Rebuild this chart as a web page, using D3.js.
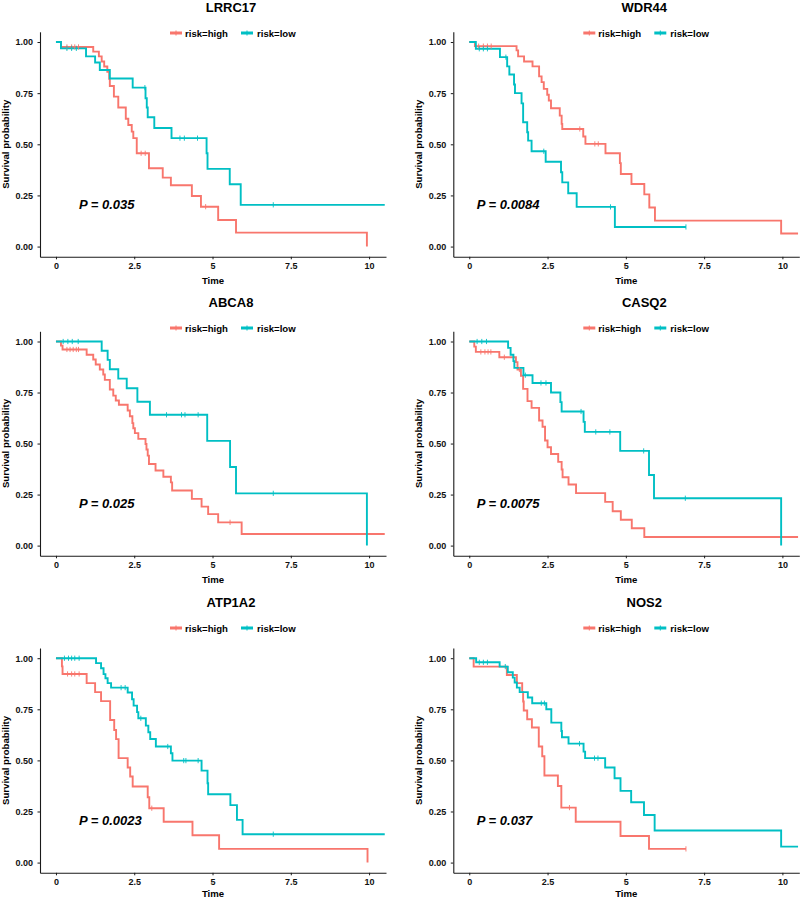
<!DOCTYPE html>
<html>
<head>
<meta charset="utf-8">
<script src="https://cdn.jsdelivr.net/npm/d3@7"></script>
<style>
  html, body { margin: 0; padding: 0; background: #ffffff; }
  svg { display: block; }
  text { font-family: "Liberation Sans", Arial, Helvetica, sans-serif; }
</style>
</head>
<body>
<svg id="chart" width="800" height="899"></svg>
<script>
// ---------------- DATA ----------------
const genes = ["LRRC17", "WDR44", "ABCA8", "CASQ2", "ATP1A2", "NOS2"];
const pValues = ["0.035", "0.0084", "0.025", "0.0075", "0.0023", "0.037"];
const groups = ["risk=high", "risk=low"];
const xTicks = [0, 2.5, 5, 7.5, 10];
const xTickLabels = ["0", "2.5", "5", "7.5", "10"];
const yTicks = [0, 0.25, 0.5, 0.75, 1];
const yTickLabels = ["0.00", "0.25", "0.50", "0.75", "1.00"];

// step points [time, survival after event]
const LRRC17_high = [[0,1],[0.16,0.976],[1.19,0.953],[1.37,0.93],[1.46,0.905],[1.54,0.88],[1.64,0.855],[1.70,0.82],[1.72,0.785],[1.85,0.733],[1.99,0.68],[2.23,0.625],[2.31,0.594],[2.42,0.562],[2.47,0.53],[2.58,0.456],[2.97,0.383],[3.41,0.337],[3.67,0.30],[4.34,0.247],[4.63,0.195],[5.18,0.13],[5.75,0.068],[9.93,0]];
const LRRC17_high_cens = [0.35, 0.5, 0.6, 0.72, 2.72, 2.85, 4.78];
const LRRC17_low = [[0,1],[0.16,0.969],[0.96,0.93],[1.25,0.90],[1.40,0.863],[1.72,0.822],[2.45,0.777],[2.86,0.725],[2.90,0.68],[2.93,0.632],[3.14,0.58],[3.69,0.53],[4.81,0.456],[4.84,0.38],[5.55,0.305],[5.90,0.204],[10.5,0.204]];
const LRRC17_low_cens = [0.35, 0.5, 0.65, 2.84, 3.96, 4.1, 4.52, 6.94];

const WDR44_high = [[0,1],[0.18,0.98],[1.51,0.959],[1.56,0.93],[1.75,0.905],[2.02,0.881],[2.23,0.832],[2.31,0.804],[2.38,0.771],[2.49,0.742],[2.54,0.714],[2.61,0.676],[2.89,0.64],[2.95,0.60],[2.97,0.575],[3.64,0.538],[3.71,0.502],[4.35,0.456],[4.81,0.408],[4.84,0.355],[5.18,0.306],[5.59,0.255],[5.75,0.191],[5.93,0.127],[9.96,0.064],[10.5,0.064]];
const WDR44_high_cens = [0.3, 0.45, 0.58, 0.7, 3.53, 4.01, 4.12];
const WDR44_low = [[0,1],[0.21,0.967],[0.98,0.926],[1.21,0.881],[1.28,0.841],[1.43,0.792],[1.46,0.75],[1.67,0.70],[1.72,0.608],[1.85,0.559],[1.88,0.518],[1.99,0.466],[2.44,0.415],[2.93,0.363],[2.97,0.314],[3.16,0.261],[3.43,0.194],[4.65,0.096],[6.92,0.096]];
const WDR44_low_cens = [0.32, 0.45, 0.58, 1.17, 2.38, 4.51, 6.92];

const ABCA8_high = [[0,1],[0.16,0.98],[0.21,0.961],[0.98,0.935],[1.19,0.912],[1.27,0.887],[1.40,0.863],[1.51,0.838],[1.56,0.812],[1.72,0.765],[1.83,0.735],[1.91,0.711],[2.01,0.69],[2.29,0.662],[2.36,0.634],[2.44,0.60],[2.47,0.575],[2.52,0.551],[2.63,0.523],[2.86,0.498],[2.89,0.471],[2.93,0.441],[2.97,0.40],[3.18,0.368],[3.43,0.337],[3.67,0.31],[3.71,0.27],[4.34,0.229],[4.65,0.191],[4.86,0.154],[5.18,0.114],[5.93,0.057],[10.5,0.057]];
const ABCA8_high_cens = [0.35, 0.45, 0.55, 0.65, 0.72, 5.56];
const ABCA8_low = [[0,1],[1.46,0.955],[1.65,0.91],[1.72,0.864],[1.99,0.818],[2.26,0.771],[2.60,0.705],[3.00,0.641],[4.83,0.513],[5.56,0.385],[5.75,0.256],[9.93,0]];
const ABCA8_low_cens = [0.23, 0.38, 0.52, 0.71, 3.53, 4.01, 4.12, 4.54, 6.94];

const CASQ2_high = [[0,1],[0.16,0.975],[0.21,0.949],[0.96,0.923],[1.49,0.899],[1.54,0.863],[1.65,0.832],[1.72,0.768],[1.86,0.708],[1.99,0.675],[2.23,0.613],[2.34,0.582],[2.42,0.515],[2.50,0.482],[2.61,0.449],[2.84,0.41],[2.95,0.373],[2.98,0.335],[3.17,0.299],[3.41,0.257],[4.34,0.214],[4.58,0.168],[4.84,0.127],[5.19,0.085],[5.59,0.042],[10.5,0.042]];
const CASQ2_high_cens = [0.37, 0.5, 0.6, 0.69, 1.12, 1.6];
const CASQ2_low = [[0,1],[1.24,0.969],[1.32,0.935],[1.41,0.904],[1.44,0.871],[1.73,0.835],[2.02,0.797],[2.61,0.75],[2.91,0.703],[2.95,0.657],[3.65,0.606],[3.69,0.557],[4.82,0.464],[5.74,0.346],[5.90,0.232],[9.96,0]];
const CASQ2_low_cens = [0.25, 0.4, 0.55, 1.79, 2.29, 2.45, 3.57, 4.04, 4.49, 5.57, 6.9];

const ATP1A2_high = [[0,1],[0.19,0.96],[0.21,0.923],[0.98,0.878],[1.25,0.834],[1.44,0.79],[1.73,0.698],[1.86,0.649],[1.92,0.604],[2.00,0.511],[2.29,0.465],[2.37,0.421],[2.45,0.372],[2.93,0.32],[2.98,0.266],[3.44,0.20],[4.36,0.134],[5.21,0.067],[9.95,0]];
const ATP1A2_high_cens = [0.37, 0.5, 0.6, 0.74, 3.06];
const ATP1A2_low = [[0,1],[1.28,0.976],[1.44,0.951],[1.52,0.922],[1.58,0.902],[1.65,0.878],[1.76,0.856],[2.29,0.832],[2.43,0.799],[2.48,0.768],[2.59,0.736],[2.63,0.706],[2.87,0.67],[2.95,0.638],[3.01,0.605],[3.19,0.568],[3.67,0.535],[3.72,0.499],[4.65,0.45],[4.84,0.388],[4.86,0.334],[5.57,0.281],[5.78,0.209],[5.96,0.139],[10.5,0.139]];
const ATP1A2_low_cens = [0.27, 0.4, 0.5, 0.6, 0.74, 2.08, 2.21, 2.71, 3.57, 4.08, 4.15, 4.54, 6.94];

const NOS2_high = [[0,1],[0.14,0.959],[1.20,0.918],[1.52,0.878],[1.69,0.834],[1.72,0.788],[1.74,0.744],[1.85,0.701],[2.00,0.661],[2.22,0.568],[2.33,0.52],[2.40,0.426],[2.83,0.375],[2.94,0.269],[3.40,0.20],[4.83,0.13],[5.74,0.067],[6.92,0.067]];
const NOS2_high_cens = [3.2, 6.92];
const NOS2_low = [[0,1],[0.22,0.98],[0.97,0.959],[1.23,0.931],[1.39,0.905],[1.45,0.881],[1.52,0.856],[1.61,0.834],[1.87,0.808],[2.01,0.78],[2.46,0.75],[2.62,0.685],[2.94,0.644],[2.96,0.613],[3.17,0.582],[3.65,0.543],[3.70,0.511],[4.34,0.465],[4.64,0.413],[4.83,0.351],[5.17,0.295],[5.58,0.233],[5.92,0.157],[9.96,0.078],[10.5,0.078]];
const NOS2_low_cens = [0.32, 0.45, 0.58, 1.15, 2.3, 2.4, 3.52, 4.0, 4.11];

const curvesHigh = [LRRC17_high, WDR44_high, ABCA8_high, CASQ2_high, ATP1A2_high, NOS2_high];
const curvesLow = [LRRC17_low, WDR44_low, ABCA8_low, CASQ2_low, ATP1A2_low, NOS2_low];
const censHigh = [LRRC17_high_cens, WDR44_high_cens, ABCA8_high_cens, CASQ2_high_cens, ATP1A2_high_cens, NOS2_high_cens];
const censLow = [LRRC17_low_cens, WDR44_low_cens, ABCA8_low_cens, CASQ2_low_cens, ATP1A2_low_cens, NOS2_low_cens];

// ---------------- STYLE / LAYOUT ----------------
const colors = ["#F8766D", "#00BFC4"];
const colLeft = [40, 453.3];
const plotWidth = 346;
const rowOrigin = [0, 295, 595];
const plotTopOff = [31.8, 36.3, 53];
const plotBottomOff = [256.8, 260.8, 277.8];
const pOffset = [39, 23.5];
const FONT = '"Liberation Sans", Arial, Helvetica, sans-serif';

const svg = d3.select("#chart");

function survAt(curve, t) {
  let s = 1;
  for (const p of curve) { if (p[0] <= t) s = p[1]; else break; }
  return s;
}

genes.forEach((gene, i) => {
  const col = i % 2, row = Math.floor(i / 2);
  const left = colLeft[col];
  const y0 = rowOrigin[row];
  const top = y0 + plotTopOff[row];
  const bottom = y0 + plotBottomOff[row];

  const x = d3.scaleLinear().domain([-0.51, 10.54]).range([left, left + plotWidth]);
  const y = d3.scaleLinear().domain([-0.05, 1.05]).range([bottom, top]);

  const g = svg.append("g");

  // title
  g.append("text")
    .attr("x", left + 191).attr("y", y0 + 11.5)
    .attr("text-anchor", "middle")
    .style("font-size", "13px").style("font-weight", "bold").attr("fill", "#000")
    .text(gene);

  // legend
  const legY = y0 + 33;
  const legItems = [{sx: 130, tx: 145}, {sx: 201, tx: 217}];
  groups.forEach((grp, k) => {
    const lx = left + legItems[k].sx;
    g.append("line").attr("x1", lx).attr("x2", lx + 12).attr("y1", legY).attr("y2", legY)
      .attr("stroke", colors[k]).attr("stroke-width", 3);
    g.append("line").attr("x1", lx + 6).attr("x2", lx + 6).attr("y1", legY - 2.5).attr("y2", legY + 2.5)
      .attr("stroke", colors[k]).attr("stroke-width", 1);
    g.append("text").attr("x", left + legItems[k].tx).attr("y", legY)
      .attr("dominant-baseline", "central")
      .style("font-size", "9.6px").style("font-weight", "bold").attr("fill", "#000")
      .text(grp);
  });

  // axes
  const yAxis = d3.axisLeft(y).tickValues(yTicks)
    .tickFormat((d) => yTickLabels[yTicks.indexOf(d)])
    .tickSize(2.5).tickSizeOuter(0).tickPadding(4.5);
  const xAxis = d3.axisBottom(x).tickValues(xTicks)
    .tickFormat((d) => xTickLabels[xTicks.indexOf(d)])
    .tickSize(2.5).tickSizeOuter(0).tickPadding(3.5);

  const ya = g.append("g").attr("transform", `translate(${left},0)`).call(yAxis);
  const xa = g.append("g").attr("transform", `translate(0,${bottom})`).call(xAxis);
  [ya, xa].forEach(a => {
    a.select(".domain").attr("stroke", "#1a1a1a").attr("stroke-width", 1.1);
    a.selectAll(".tick line").attr("stroke", "#1a1a1a").attr("stroke-width", 1);
    a.selectAll(".tick text").style("font-size", "9px").style("font-weight", "bold")
      .style("font-family", FONT).attr("fill", "#111");
  });

  // axis titles
  g.append("text")
    .attr("x", (x.range()[0] + x.range()[1]) / 2).attr("y", Math.min(bottom + 27, 896.5))
    .attr("text-anchor", "middle")
    .style("font-size", "9.6px").style("font-weight", "bold").attr("fill", "#000")
    .text("Time");
  g.append("text")
    .attr("transform", `translate(${left - 35},${(top + bottom) / 2}) rotate(-90)`)
    .attr("text-anchor", "middle").attr("dominant-baseline", "central")
    .style("font-size", "9.6px").style("font-weight", "bold").attr("fill", "#000")
    .text("Survival probability");

  // curves
  const line = d3.line().x(d => x(d[0])).y(d => y(d[1])).curve(d3.curveStepAfter);
  const curves = [curvesHigh[i], curvesLow[i]];
  const cens = [censHigh[i], censLow[i]];
  curves.forEach((c, k) => {
    g.append("path").datum(c).attr("d", line)
      .attr("fill", "none").attr("stroke", colors[k]).attr("stroke-width", 1.9)
      .attr("stroke-linejoin", "miter");
  });
  cens.forEach((cs, k) => {
    cs.forEach(t => {
      const cx = x(t), cy = y(survAt(curves[k], t));
      g.append("line").attr("x1", cx).attr("x2", cx).attr("y1", cy - 2.6).attr("y2", cy + 2.6)
        .attr("stroke", colors[k]).attr("stroke-width", 0.9);
    });
  });

  // p-value
  g.append("text")
    .attr("x", left + pOffset[col]).attr("y", y(0.205))
    .attr("dominant-baseline", "central")
    .style("font-size", "13px").style("font-weight", "bold").style("font-style", "italic")
    .attr("fill", "#000")
    .text("P = " + pValues[i]);
});
</script>
</body>
</html>
